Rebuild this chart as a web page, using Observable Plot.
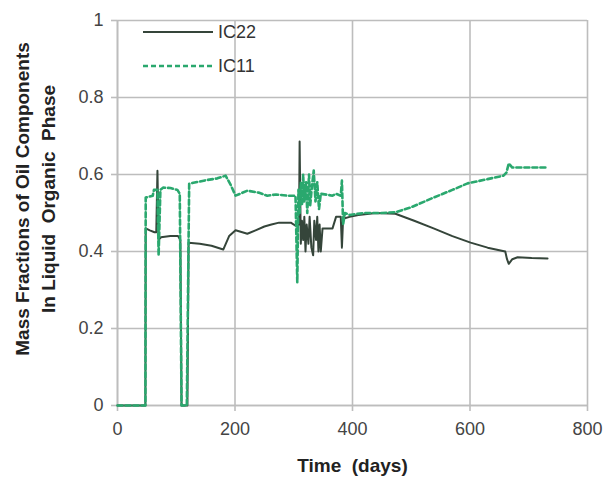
<!DOCTYPE html>
<html>
<head>
<meta charset="utf-8">
<script src="https://cdn.jsdelivr.net/npm/d3@7"></script>
<script src="https://cdn.jsdelivr.net/npm/@observablehq/plot@0.6"></script>
<style>
  body { margin: 0; background: #fff; }
  #wrap { position: relative; width: 607px; height: 478px; font-family: "Liberation Sans", Arial, sans-serif; }
  #legend { position: absolute; left: 143px; top: 15px; font-size: 18px; color: #333; }
  .item { display: flex; align-items: center; height: 34px; }
  .item svg { margin-right: 5px; }
</style>
</head>
<body>
<div id="wrap"><div id="legend"></div></div>
<script>
const seriesNames = ["IC22", "IC11"];
const seriesColors = ["#35453a", "#2aa86e"];

const ic22Days = [0, 47.5, 48, 55, 63, 66, 68, 70, 74, 90, 103, 107, 109, 119, 121, 140, 160, 180, 190, 201, 221, 235, 250, 262, 275, 295, 305, 309, 310, 312, 314, 316, 318, 320, 322, 325, 327, 330, 333, 335, 338, 340, 342, 344, 346, 349, 366, 372, 380, 382, 384, 395, 410, 440, 473, 505, 538, 570, 601, 630, 660, 663, 666, 672, 681, 705, 732];
const ic22Values = [0, 0, 0.46, 0.455, 0.45, 0.45, 0.61, 0.43, 0.437, 0.44, 0.44, 0.43, 0, 0, 0.423, 0.42, 0.415, 0.405, 0.44, 0.455, 0.446, 0.455, 0.465, 0.47, 0.475, 0.475, 0.465, 0.47, 0.686, 0.42, 0.48, 0.43, 0.49, 0.40, 0.47, 0.42, 0.49, 0.41, 0.39, 0.48, 0.43, 0.49, 0.40, 0.47, 0.40, 0.46, 0.46, 0.49, 0.49, 0.41, 0.485, 0.49, 0.495, 0.5, 0.498, 0.48, 0.46, 0.44, 0.423, 0.41, 0.40, 0.38, 0.368, 0.38, 0.385, 0.383, 0.382];

const ic11Days = [0, 47.5, 48, 60, 62, 68, 70, 73, 78, 90, 102, 106, 109, 118, 122, 150, 170, 184, 192, 201, 221, 240, 255, 270, 290, 303, 306, 308, 310, 312, 314, 316, 318, 321, 323, 326, 328, 331, 334, 337, 340, 343, 346, 366, 372, 380, 382, 384, 387, 395, 420, 450, 473, 500, 538, 570, 596, 630, 657, 662, 666, 672, 700, 732];
const ic11Values = [0, 0, 0.54, 0.545, 0.56, 0.56, 0.39, 0.56, 0.566, 0.565, 0.56, 0.55, 0, 0, 0.576, 0.585, 0.59, 0.597, 0.575, 0.545, 0.558, 0.553, 0.545, 0.548, 0.545, 0.545, 0.32, 0.56, 0.50, 0.58, 0.52, 0.60, 0.53, 0.58, 0.50, 0.60, 0.52, 0.57, 0.61, 0.53, 0.58, 0.51, 0.55, 0.545, 0.55, 0.545, 0.584, 0.47, 0.5, 0.495, 0.5, 0.5, 0.502, 0.515, 0.54, 0.56, 0.577, 0.588, 0.597, 0.605, 0.629, 0.618, 0.618, 0.618];

const xTicks = [0, 200, 400, 600, 800];
const yTicks = [0, 0.2, 0.4, 0.6, 0.8, 1];
const xTitle = "Time  (days)";
const yTitle1 = "Mass Fractions of Oil Components";
const yTitle2 = "In Liquid  Organic  Phase";

const ic22 = ic22Days.map((d, i) => ({day: d, value: ic22Values[i]}));
const ic11 = ic11Days.map((d, i) => ({day: d, value: ic11Values[i]}));

const gridColor = "#bdbdbd";
const font = "Liberation Sans, Arial, sans-serif";

const chart = Plot.plot({
  width: 607,
  height: 478,
  marginLeft: 117,
  marginRight: 20,
  marginTop: 20,
  marginBottom: 73,
  style: {fontFamily: font, fontSize: "18px", background: "#fff", overflow: "visible"},
  x: {domain: [0, 800]},
  y: {domain: [0, 1]},
  marks: [
    Plot.gridX(xTicks, {stroke: gridColor, strokeOpacity: 1, strokeWidth: 1.6}),
    Plot.gridY(yTicks, {stroke: gridColor, strokeOpacity: 1, strokeWidth: 1.6}),
    Plot.ruleX([0], {stroke: gridColor, strokeWidth: 1.6}),
    Plot.ruleY([0], {stroke: gridColor, strokeWidth: 1.6}),
    Plot.axisX(xTicks, {tickSize: 6, tickPadding: 11, stroke: gridColor, strokeWidth: 1.6, fill: "#444", tickFormat: d => String(d), label: null}),
    Plot.axisY(yTicks, {tickSize: 6, tickPadding: 8, stroke: gridColor, strokeWidth: 1.6, fill: "#444", tickFormat: d => String(d), label: null}),
    Plot.line(ic22, {x: "day", y: "value", stroke: seriesColors[0], strokeWidth: 2}),
    Plot.line(ic11, {x: "day", y: "value", stroke: seriesColors[1], strokeWidth: 2.6, strokeDasharray: "5,3"}),
    Plot.text([xTitle], {frameAnchor: "bottom", dy: 60, lineAnchor: "middle", fontWeight: "bold", fontSize: 19, fill: "#222"}),
    Plot.text([yTitle1], {frameAnchor: "left", dx: -95, dy: -14, rotate: -90, lineAnchor: "middle", textAnchor: "middle", fontWeight: "bold", fontSize: 19, fill: "#222"}),
    Plot.text([yTitle2], {frameAnchor: "left", dx: -69, dy: -14, rotate: -90, lineAnchor: "middle", textAnchor: "middle", fontWeight: "bold", fontSize: 19, fill: "#222"})
  ]
});

const wrap = document.getElementById("wrap");
wrap.insertBefore(chart, wrap.firstChild);

const legend = document.getElementById("legend");
seriesNames.forEach((name, i) => {
  const item = document.createElement("div");
  item.className = "item";
  const dash = i === 1 ? ' stroke-dasharray="5,3"' : '';
  const sw = i === 1 ? 2.6 : 2;
  item.innerHTML = `<svg width="70" height="6"><line x1="0" x2="70" y1="3" y2="3" stroke="${seriesColors[i]}" stroke-width="${sw}"${dash}/></svg><span>${name}</span>`;
  legend.appendChild(item);
});
</script>
</body>
</html>
